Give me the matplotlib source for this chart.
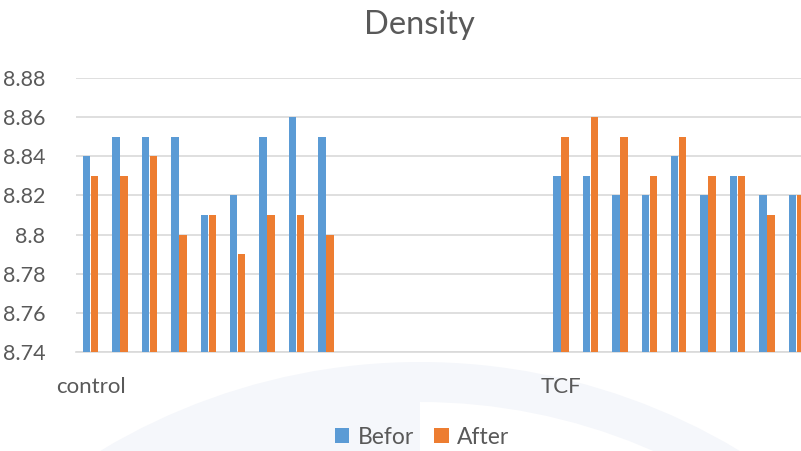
import numpy as np
import matplotlib.pyplot as plt
from matplotlib.patches import Circle, Wedge

# values
groups = ['control', 'TCF']
group_start = [0, 16]          # category slot where each group begins
control_before = [8.84, 8.85, 8.85, 8.85, 8.81, 8.82, 8.85, 8.86, 8.85]
control_after = [8.83, 8.83, 8.84, 8.80, 8.81, 8.79, 8.81, 8.81, 8.80]
tcf_before = [8.83, 8.83, 8.82, 8.82, 8.84, 8.82, 8.83, 8.82, 8.82]
tcf_after = [8.85, 8.86, 8.85, 8.83, 8.85, 8.83, 8.83, 8.81, 8.82]
yticks = [8.74, 8.76, 8.78, 8.80, 8.82, 8.84, 8.86, 8.88]
ytick_labels = ['8.74', '8.76', '8.78', '8.8', '8.82', '8.84', '8.86', '8.88']

blue = '#5B9BD5'
orange = '#ED7D31'
grey_text = '#595959'

plt.rcParams['font.family'] = ['Lato', 'DejaVu Sans']

fig = plt.figure(figsize=(8.01, 4.51), dpi=100)
fig.patch.set_facecolor('white')

# faint watermark arc behind the legend (pixel coords)
fig.patches.append(Circle((420, -531), 620, transform=None, facecolor='#F5F7FB',
                          edgecolor='none', zorder=-2))
fig.patches.append(Wedge((420, -531), 580, 0, 90, transform=None, facecolor='white',
                         edgecolor='none', zorder=-1))

# plot area runs off the right edge like the cropped original
ax = fig.add_axes([76 / 801, 99 / 451, 735 / 801, 274 / 451])
ax.patch.set_visible(False)

bw = 0.25
off = 0.135
for start, before, after in [(group_start[0], control_before, control_after),
                             (group_start[1], tcf_before, tcf_after)]:
    x = start + np.arange(len(before))
    ax.bar(x - off, before, width=bw, color=blue, zorder=3, label='Befor')
    ax.bar(x + off, after, width=bw, color=orange, zorder=3, label='After')

ax.set_xlim(-0.5, 24.5)
ax.set_ylim(8.74, 8.88)
ax.set_yticks(yticks)
ax.set_yticklabels(ytick_labels, fontsize=15.5, color=grey_text)
ax.set_xticks(group_start)
ax.set_xticklabels(groups, fontsize=16, color=grey_text)
ax.tick_params(axis='both', length=0)
ax.tick_params(axis='x', pad=18)
ax.tick_params(axis='y', pad=22)

ax.grid(axis='y', color='#D9D9D9', linewidth=1.2, zorder=0)
for s in ['top', 'right', 'left']:
    ax.spines[s].set_visible(False)
ax.spines['bottom'].set_color('#D9D9D9')
ax.spines['bottom'].set_linewidth(1.2)

fig.text(419 / 801, 1 - 25 / 451, 'Density', ha='center', va='center',
         fontsize=23.5, color=grey_text)

handles, labels = ax.get_legend_handles_labels()
fig.legend(handles[:2], labels[:2], loc='center', bbox_to_anchor=(422 / 801, 1 - 437 / 451),
           ncol=2, frameon=False, fontsize=16.5, handlelength=0.65, handleheight=0.65,
           handletextpad=0.35, columnspacing=0.9, labelcolor=grey_text)

fig.savefig('out.png', dpi=100)
